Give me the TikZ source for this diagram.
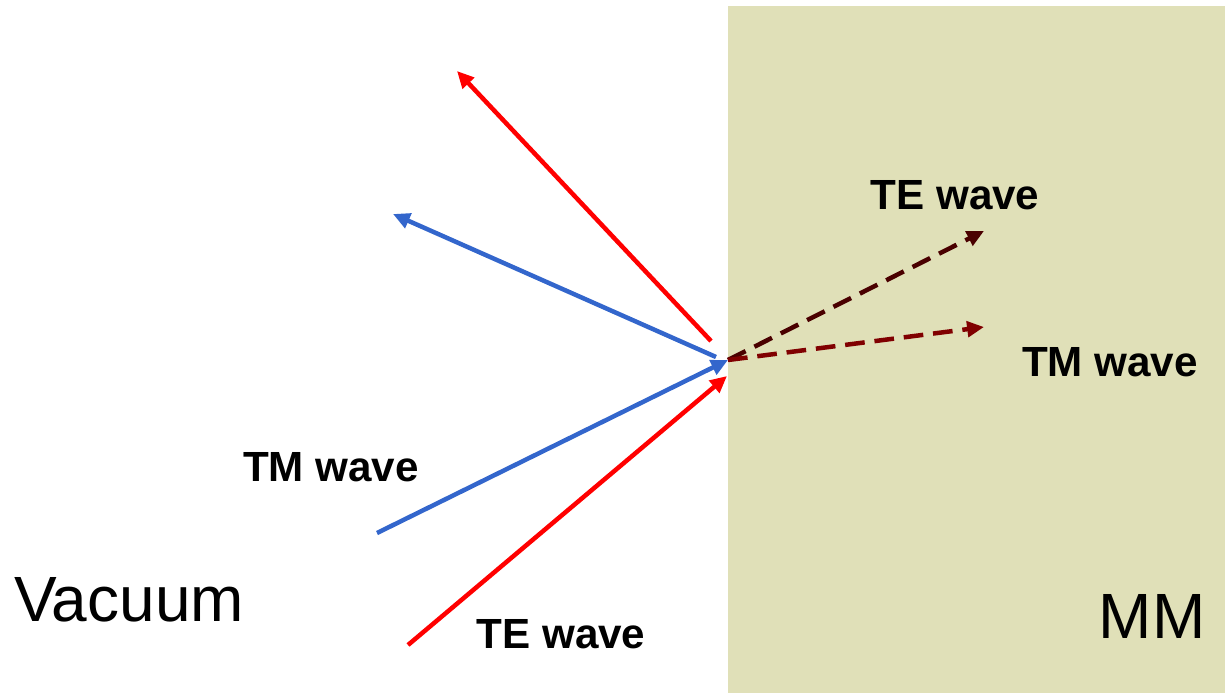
\documentclass[tikz,border=0pt]{standalone}
\usepackage{fontspec}
\setmainfont{Liberation Sans}
\usetikzlibrary{arrows.meta,positioning}
\definecolor{mmFill}{RGB}{224,224,184}
\definecolor{waveBlue}{RGB}{51,102,204}
\definecolor{teDark}{RGB}{74,0,0}
\definecolor{tmDark}{RGB}{128,0,0}
\tikzset{
  waveln/.style={-{Triangle[length=12pt,width=11pt]}, line width=3.2pt},
  transln/.style={waveln, dash pattern=on 14pt off 7pt},
  wavelbl/.style={font=\fontsize{30}{36}\selectfont\bfseries, inner sep=0pt},
  medlbl/.style={font=\fontsize{45.5}{52}\selectfont, inner sep=0pt},
}
\begin{document}
\begin{tikzpicture}[x=0.025cm, y=-0.025cm]
  \useasboundingbox (0,0) rectangle (1229,693);
  % metamaterial half space
  \fill[mmFill] (728,6) rectangle (1225,693);
  % end points
  \coordinate (teIn) at (408,645);
  \coordinate (tmIn) at (377,533);
  \coordinate (teHit) at (727,376);
  \coordinate (tmHit) at (728,360);
  \coordinate (teRefFrom) at (711,341);
  \coordinate (teRefTo) at (457,71);
  \coordinate (tmRefFrom) at (716,357);
  \coordinate (tmRefTo) at (393,214);
  \coordinate (teTrTo) at (984,231);
  \coordinate (tmTrTo) at (984,327);
  % incident and reflected waves
  \draw[waveln, red] (teIn) -- (teHit);
  \draw[waveln, waveBlue] (tmIn) -- (tmHit);
  \draw[waveln, red] (teRefFrom) -- (teRefTo);
  \draw[waveln, waveBlue] (tmRefFrom) -- (tmRefTo);
  % transmitted waves
  \draw[transln, teDark] (tmHit) -- (teTrTo);
  \draw[transln, tmDark] (tmHit) -- (tmTrTo);
  % labels
  \node[wavelbl] (teTrLbl) at (955,195) {TE wave};
  \node[wavelbl] (tmTrLbl) at (1110,362) {TM wave};
  \node[wavelbl] (tmInLbl) at (331,467) {TM wave};
  \node[wavelbl] (teInLbl) at (561,634) {TE wave};
  \node[medlbl] (vacLbl) at (129,600) {Vacuum};
  \node[medlbl] (mmLbl) at (1152,616) {MM};
\end{tikzpicture}
\end{document}
